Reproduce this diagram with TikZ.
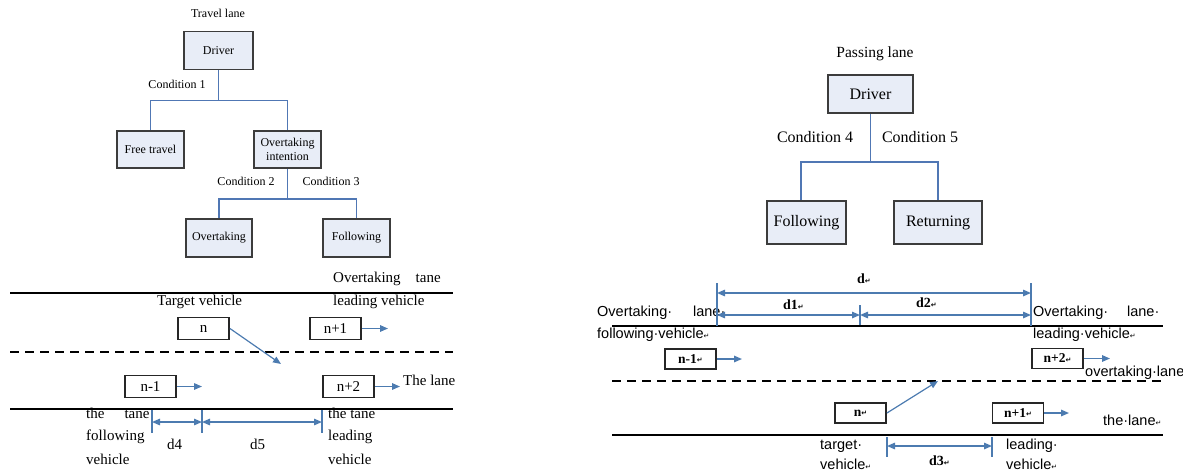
\documentclass[tikz,border=0pt]{standalone}
\usepackage{fontspec}
\setmainfont{Liberation Serif}
\newfontfamily\lsans{Liberation Sans}
\newfontfamily\dvsans{DejaVu Sans}
\usetikzlibrary{arrows.meta}
\definecolor{boxfill}{HTML}{E8EDF7}
\definecolor{boxedge}{HTML}{3C3C3C}
\definecolor{treeblue}{HTML}{5077B4}
\definecolor{arrblue}{HTML}{4C7BB0}
\newcommand\retmark{{\dvsans\fontsize{7}{7}\selectfont\raisebox{0.5pt}{↵}}}
\newcommand\fsz[1]{\fontsize{#1}{#1}\selectfont}
\begin{document}
\begin{tikzpicture}[x=1pt,y=-1pt,
 tbox/.style={draw=boxedge,line width=1.6pt,fill=boxfill,inner sep=0pt,align=center},
 tline/.style={draw=treeblue,line width=1.4pt},
 road/.style={line width=1.8pt,draw=black},
 droad/.style={road,dash pattern=on 9pt off 6pt},
 veh/.style={draw=black!85,line width=1.9pt,fill=white,inner sep=0pt,font=\fsz{15},minimum width=51,minimum height=22},
 vehb/.style={draw=black!85,line width=1.9pt,fill=white,inner sep=0pt,font=\bfseries\fsz{13.5},minimum width=51,minimum height=20},
 mv/.style={draw=arrblue,line width=1.5pt,-{Triangle[length=8pt,width=6.5pt]}},
 dimar/.style={draw=arrblue,line width=1.4pt,{Triangle[length=8pt,width=6.5pt]}-{Triangle[length=8pt,width=6.5pt]}},
 tick/.style={draw=arrblue,line width=1.4pt},
 lbl/.style={inner sep=0pt,anchor=west,text height=.7em,text depth=.2em},
 clbl/.style={inner sep=0pt,anchor=center,text height=.7em,text depth=.2em},
 serl/.style={lbl,font=\fsz{15}},
 sanl/.style={lbl,font=\lsans\fsz{14.5}},
 dlbl/.style={lbl,font=\bfseries\fsz{14}},
]
\useasboundingbox (0,0) rectangle (1183,472);

% ---------------- left tree ----------------
\node[clbl,font=\fsz{12}] (tl) at (218,15) {Travel lane};
\node[tbox,minimum width=69,minimum height=38,font=\fsz{12}] (drv) at (218.5,50.5) {Driver};
\node[tbox,minimum width=67.5,minimum height=37.5,font=\fsz{12}] (free) at (150.5,149.5) {Free travel};
\node[tbox,minimum width=67.5,minimum height=37.5,font=\fontsize{12}{14}\selectfont] (oti) at (287.5,149.5) {Overtaking\\intention};
\node[tbox,minimum width=66.5,minimum height=38.5,font=\fsz{12}] (ovt) at (219,238) {Overtaking};
\node[tbox,minimum width=67.5,minimum height=38.5,font=\fsz{12}] (fol) at (356.5,238) {Following};
\draw[tline] (drv.south) -- ++(0,30) coordinate (j1);
\draw[tline] (free.north) |- (j1) -| (oti.north);
\draw[tline] (oti.south) -- ++(0,30) coordinate (j2);
\draw[tline] (ovt.north) |- (j2) -| (fol.north);
\node[clbl,font=\fsz{12}] (c1) at (177,86) {Condition 1};
\node[clbl,font=\fsz{12}] (c2) at (246,183) {Condition 2};
\node[clbl,font=\fsz{12}] (c3) at (331,183) {Condition 3};

% ---------------- right tree ----------------
\node[clbl,font=\fsz{15.5}] (pl) at (875,55) {Passing lane};
\node[tbox,minimum width=85.5,minimum height=38.5,font=\fsz{16}] (drv2) at (870.5,94) {Driver};
\node[tbox,minimum width=79.5,minimum height=43.5,font=\fsz{16}] (fol2) at (806.5,222.5) {Following};
\node[tbox,minimum width=88.5,minimum height=43.5,font=\fsz{16}] (ret2) at (938,222.5) {Returning};
\draw[tline] (drv2.south) -- ++(0,48) coordinate (j3);
\draw[tline] ([xshift=-5.5pt]fol2.north) |- (j3) -| (ret2.north);
\node[clbl,font=\fsz{16}] (c4) at (815,140) {Condition 4};
\node[clbl,font=\fsz{16}] (c5) at (920,140) {Condition 5};

% ---------------- left road ----------------
\draw[road] (10,293) -- (453,293);
\draw[droad] (10,352) -- (453,352);
\draw[road] (10,409) -- (453,409);
\node[serl] (olt) at (333,280) {Overtaking\hspace{15pt}tane};
\node[serl] (olv) at (333,303) {leading vehicle};
\node[serl] (tgt) at (157,303) {Target vehicle};
\node[veh] (vn) at (203.5,328.5) {n};
\node[veh] (vn1) at (335.5,328.5) {n+1};
\node[veh] (vnm1) at (150.5,386.5) {n-1};
\node[veh] (vn2) at (348.5,386.5) {n+2};
\coordinate (a1) at (388,328.5);
\coordinate (a2) at (202,386.5);
\coordinate (a3) at (400,386.5);
\coordinate (lcL) at (281,364);
\draw[mv] (vn1.east) -- (a1);
\draw[mv] (vnm1.east) -- (a2);
\draw[mv] (vn2.east) -- (a3);
\draw[mv,line width=1.2pt] (vn.east) -- (lcL);
\node[serl] (tl2) at (403,383) {The lane};
\node[serl] (lf1) at (86,416) {the\hspace{20pt}tane};
\node[serl] (lf2) at (86,438) {following};
\node[serl] (lf3) at (86,462) {vehicle};
\node[serl] (ll1) at (328,416) {the tane};
\node[serl] (ll2) at (328,438) {leading};
\node[serl] (ll3) at (328,462) {vehicle};
\coordinate (k1a) at (152,410); \coordinate (k1b) at (152,433);
\coordinate (k2a) at (202,410); \coordinate (k2b) at (202,433);
\coordinate (k3a) at (322,410); \coordinate (k3b) at (322,433);
\draw[tick] (k1a) -- (k1b);
\draw[tick] (k2a) -- (k2b);
\draw[tick] (k3a) -- (k3b);
\coordinate (m1) at (152,422); \coordinate (m2) at (202,422); \coordinate (m3) at (322,422);
\draw[dimar] (m1) -- (m2);
\draw[dimar] (m2) -- (m3);
\node[serl] (d4) at (167,447) {d4};
\node[serl] (d5) at (250,447) {d5};

% ---------------- right road ----------------
\draw[road] (612,326) -- (1163,326);
\draw[road,dash pattern=on 9pt off 6pt] (612,381) -- (1163,381);
\draw[road] (612,435) -- (1163,435);
\node[sanl] (rot1) at (597,314) {Overtaking·\hspace{21pt}lane·};
\node[sanl] (rot2) at (597,336) {following·vehicle\retmark};
\node[sanl] (rol1) at (1033,314) {Overtaking·\hspace{19pt}lane·};
\node[sanl] (rol2) at (1033,336) {leading·vehicle\retmark};
\node[sanl] (rovl) at (1085,374) {overtaking·lane};
\node[sanl] (rtl) at (1103,423) {the·lane\retmark};
\node[sanl] (rtv1) at (820,447) {target·};
\node[sanl] (rtv2) at (820,467) {vehicle\retmark};
\node[sanl] (rlv1) at (1006,447) {leading·};
\node[sanl] (rlv2) at (1006,467) {vehicle\retmark};
\node[vehb] (vr1) at (690.5,359) {n-1\retmark};
\node[vehb] (vr2) at (1057.5,358.5) {n+2\retmark};
\node[vehb] (vrn) at (860.5,413) {n\retmark};
\node[vehb] (vrn1) at (1018,413) {n+1\retmark};
\coordinate (b1) at (742,359);
\coordinate (b2) at (1110,358.5);
\coordinate (b3) at (1069,413);
\coordinate (lcR) at (938,381);
\draw[mv] (vr1.east) -- (b1);
\draw[mv] (vr2.east) -- (b2);
\draw[mv] (vrn1.east) -- (b3);
\draw[mv,line width=1.2pt] (vrn.east) -- (lcR);
\coordinate (p1a) at (717,283); \coordinate (p1b) at (717,326);
\coordinate (p2a) at (1031,283); \coordinate (p2b) at (1031,326);
\coordinate (p3a) at (860,305); \coordinate (p3b) at (860,325);
\coordinate (p4a) at (887,437); \coordinate (p4b) at (887,457);
\coordinate (p5a) at (992,437); \coordinate (p5b) at (992,457);
\draw[tick] (p1a) -- (p1b);
\draw[tick] (p2a) -- (p2b);
\draw[tick] (p3a) -- (p3b);
\draw[tick] (p4a) -- (p4b);
\draw[tick] (p5a) -- (p5b);
\coordinate (q1) at (717,293); \coordinate (q2) at (1031,293);
\coordinate (q3) at (717,315); \coordinate (q4) at (860,315); \coordinate (q5) at (1031,315);
\coordinate (q6) at (887,446); \coordinate (q7) at (992,446);
\draw[dimar] (q1) -- (q2);
\draw[dimar] (q3) -- (q4);
\draw[dimar] (q4) -- (q5);
\draw[dimar] (q6) -- (q7);
\node[dlbl] (ld) at (857,281) {d\retmark};
\node[dlbl] (ld1) at (783,307) {d1\retmark};
\node[dlbl] (ld2) at (916,305) {d2\retmark};
\node[dlbl] (ld3) at (929,463) {d3\retmark};
\end{tikzpicture}
\end{document}
